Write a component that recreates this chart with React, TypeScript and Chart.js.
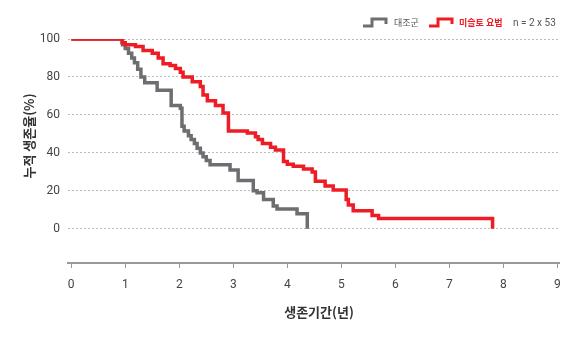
import React, { useEffect, useRef } from "react";
import { Chart, registerables } from "chart.js";

Chart.register(...registerables);

// Survival data (years, %)
const controlTimes = [0, 0.95, 1.0, 1.06, 1.12, 1.17, 1.23, 1.29, 1.36, 1.59, 1.85, 2.02, 2.05, 2.09, 2.17, 2.22, 2.28, 2.33, 2.39, 2.44, 2.5, 2.57, 2.94, 3.09, 3.37, 3.44, 3.56, 3.74, 3.81, 4.18, 4.37];
const controlSurv = [100, 97, 95, 92.5, 90, 87.5, 84, 80, 77, 73, 65, 63.5, 54, 51.5, 49, 47, 45, 42.5, 40, 38, 36, 33.7, 31, 25.5, 20, 19, 15.5, 12, 10.5, 8, 0];

const mistletoeTimes = [0, 0.94, 1.0, 1.19, 1.33, 1.5, 1.61, 1.7, 1.83, 1.93, 2.02, 2.07, 2.24, 2.39, 2.44, 2.52, 2.67, 2.81, 2.91, 3.26, 3.41, 3.46, 3.54, 3.69, 3.78, 3.93, 4.0, 4.11, 4.3, 4.46, 4.52, 4.7, 4.85, 5.09, 5.13, 5.22, 5.57, 5.69, 7.8];
const mistletoeSurv = [100, 98, 97, 96, 94, 92.5, 90, 87, 86, 84.5, 82.5, 80, 77.5, 75, 70.5, 67.5, 65, 61, 51.5, 50.5, 48.5, 47, 45, 43, 41.5, 35.5, 34, 33, 31.5, 30, 25, 22.5, 20.5, 15.5, 12.5, 9.5, 7, 5.5, 0];

const xTicks = [0, 1, 2, 3, 4, 5, 6, 7, 8, 9];
const yTicks = [0, 20, 40, 60, 80, 100];

const controlLabel = "대조군";
const mistletoeLabel = "미슬토 요법";
const nLabel = "n = 2 x 53";
const xTitle = "생존기간(년)";
const yTitle = "누적 생존율(%)";

const RED = "#ee1c25";
const GRAY = "#6d6e71";
const KR = "'Noto Sans CJK KR', 'Noto Sans', sans-serif";
const NUM = "Roboto, 'Noto Sans', sans-serif";

const decorPlugin = {
  id: "decor",
  afterDraw(chart: any) {
    const ctx = chart.ctx;
    ctx.save();
    // y title
    ctx.fillStyle = "#333";
    ctx.font = `bold 13px ${KR}`;
    ctx.textAlign = "center";
    ctx.textBaseline = "middle";
    ctx.save();
    ctx.translate(29, 136);
    ctx.rotate(-Math.PI / 2);
    ctx.fillText(yTitle, 0, 0);
    ctx.restore();
    // x title
    ctx.fillText(xTitle, 319, 312);

    // legend icons
    const icon = (x: number, color: string) => {
      ctx.strokeStyle = color;
      ctx.lineWidth = 3;
      ctx.lineJoin = "miter";
      ctx.beginPath();
      ctx.moveTo(x, 26);
      ctx.lineTo(x + 9, 26);
      ctx.lineTo(x + 9, 19);
      ctx.lineTo(x + 23, 19);
      ctx.lineTo(x + 23, 24);
      ctx.stroke();
    };
    icon(363, GRAY);
    icon(429, RED);
    ctx.textAlign = "left";
    ctx.textBaseline = "middle";
    ctx.fillStyle = "#555";
    ctx.font = `9px ${KR}`;
    ctx.fillText(controlLabel, 394, 23);
    ctx.fillStyle = RED;
    ctx.font = `bold 9px ${KR}`;
    ctx.fillText(mistletoeLabel, 459, 23);
    ctx.fillStyle = "#555";
    ctx.font = `10px ${NUM}`;
    ctx.fillText(nLabel, 513, 23);
    ctx.restore();
  },
};

export default function App() {
  const ref = useRef<HTMLCanvasElement>(null);
  useEffect(() => {
    if (!ref.current) return;
    const chart = new Chart(ref.current, {
      type: "line",
      data: {
        datasets: [
          {
            label: mistletoeLabel,
            data: mistletoeTimes.map((t, i) => ({ x: t, y: mistletoeSurv[i] })),
            borderColor: RED,
            borderWidth: 3.5,
            pointRadius: 0,
            stepped: "before",
            fill: false,
            borderJoinStyle: "miter",
          },
          {
            label: controlLabel,
            data: controlTimes.map((t, i) => ({ x: t, y: controlSurv[i] })),
            borderColor: GRAY,
            borderWidth: 3.5,
            pointRadius: 0,
            stepped: "before",
            fill: false,
            borderJoinStyle: "miter",
          },
        ],
      },
      options: {
        animation: false,
        responsive: false,
        maintainAspectRatio: false,
        layout: { padding: { top: 39, right: 21, left: 0, bottom: 0 } },
        plugins: { legend: { display: false }, tooltip: { enabled: false } },
        scales: {
          x: {
            type: "linear",
            min: -0.06,
            max: 9.03,
            afterBuildTicks: (s: any) => {
              s.ticks = xTicks.map((v) => ({ value: v }));
            },
            afterFit: (s: any) => {
              s.height = 75;
            },
            grid: {
              drawOnChartArea: false,
              drawTicks: true,
              tickLength: 5,
              color: "#999",
              lineWidth: 1,
            },
            border: { display: true, color: "#999", width: 2 },
            ticks: {
              color: "#444",
              font: { family: NUM, size: 12 },
              padding: 10,
              maxRotation: 0,
            },
          },
          y: {
            type: "linear",
            min: -18,
            max: 100,
            afterBuildTicks: (s: any) => {
              s.ticks = yTicks.map((v) => ({ value: v }));
            },
            afterFit: (s: any) => {
              s.width = 68;
            },
            grid: {
              drawTicks: false,
              color: "#bbb",
              lineWidth: 1,
            },
            border: { display: false, dash: [2, 2] },
            ticks: {
              color: "#444",
              font: { family: NUM, size: 12 },
              padding: 8,
            },
          },
        },
      },
      plugins: [
        {
          id: "dashGrid",
          beforeDraw(chart: any) {
            chart.options.scales.y.border.dash = [2, 2];
          },
        },
        decorPlugin,
      ],
    } as any);
    return () => chart.destroy();
  }, []);
  return (
    <div style={{ position: "fixed", left: 0, top: 0, width: 580, height: 338, background: "#fff" }}>
      <canvas ref={ref} width={580} height={338} style={{ width: 580, height: 338 }} />
    </div>
  );
}
